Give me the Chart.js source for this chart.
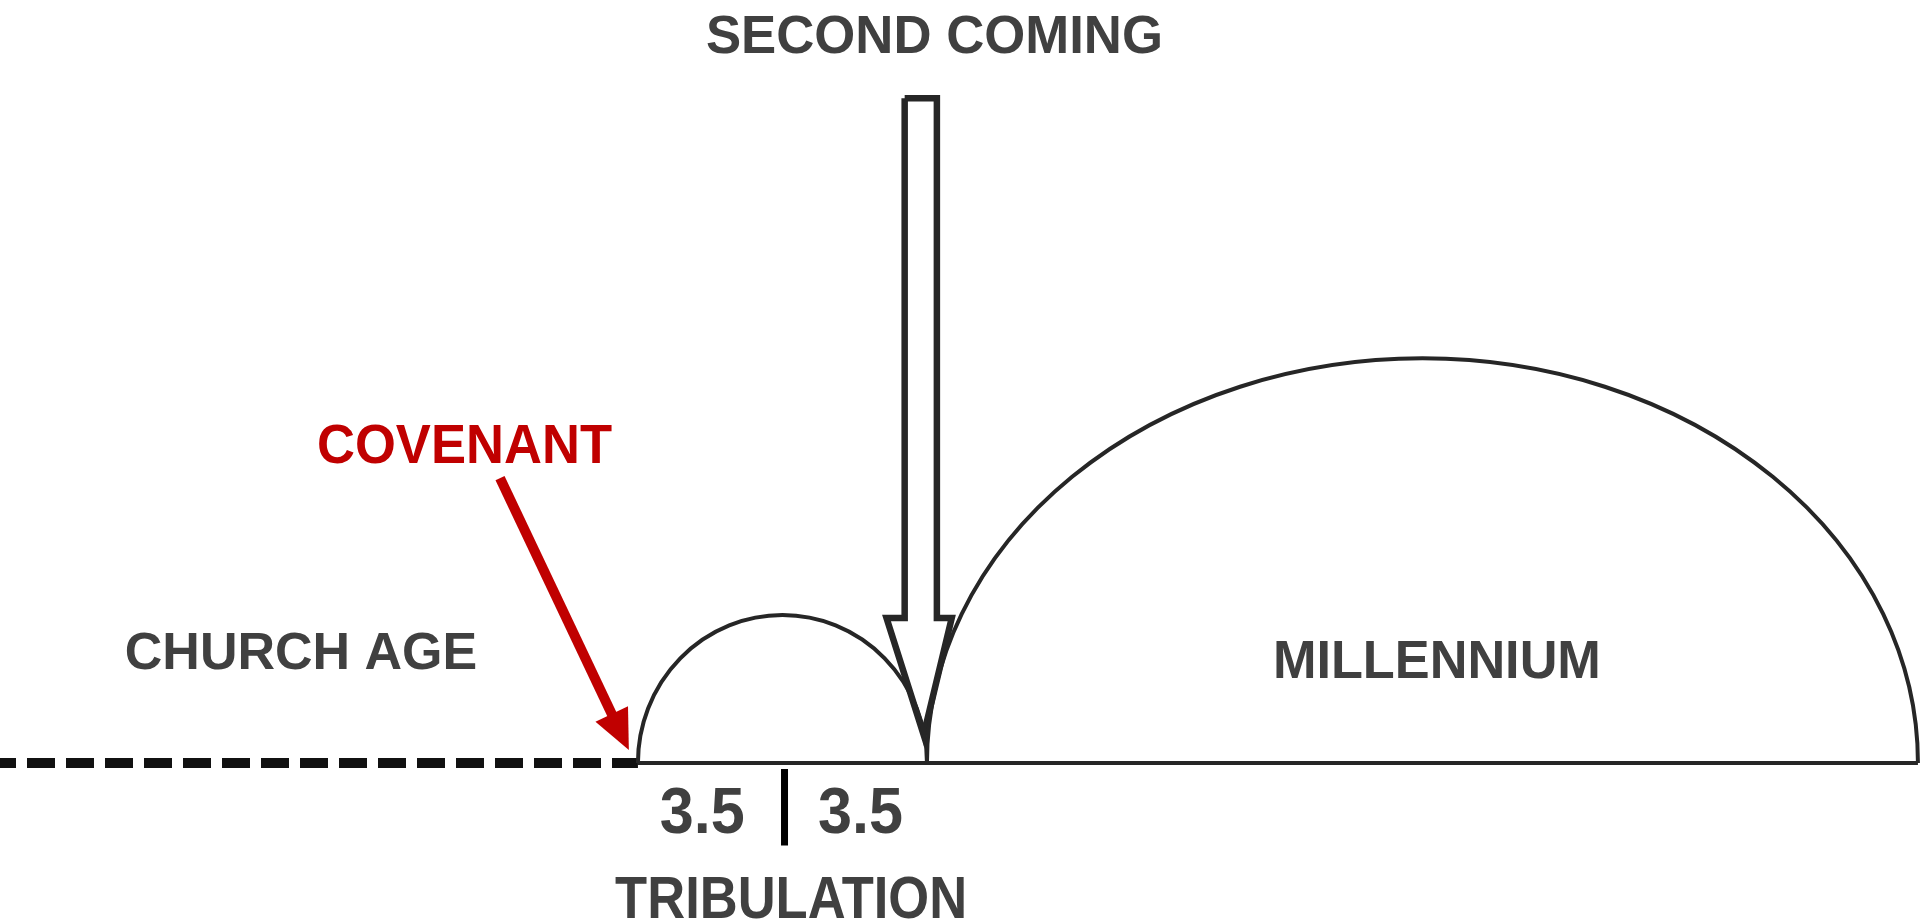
<!DOCTYPE html>
<html>
<head>
<meta charset="utf-8">
<script src="https://cdn.jsdelivr.net/npm/chart.js@4.4.1/dist/chart.umd.min.js"></script>
<style>
  html, body { margin: 0; padding: 0; background: #fff; }
  #wrap { width: 1920px; height: 921px; position: relative; }
</style>
</head>
<body>
<div id="wrap"><canvas id="myChart"></canvas></div>
<script>
// timeline in "years": tribulation is 7 (3.5 + 3.5)
var eras = ['CHURCH AGE', 'TRIBULATION', 'MILLENNIUM'];
var eraStart = [-15.45, 0, 7];
var eraEnd = [0, 7, 31];
var eraHeight = [0, 3.58, 9.8];   // height of the dome over each era
var halves = ['3.5', '3.5'];
var halfMark = 3.55;

var events = ['SECOND COMING', 'COVENANT'];
// hollow arrow of the second coming (outline vertices)
var comingX = [6.46, 7.24, 7.24, 7.6, 6.92, 6.02, 6.46, 6.46];
var comingY = [16.1, 16.1, 3.51, 3.51, 0.68, 3.51, 3.51, 16.1];
// red covenant arrow, from label down to start of tribulation
var covenantX = [-3.34, -0.22];
var covenantY = [6.9, 0.31];

function pts(xs, ys) {
    return xs.map(function (x, i) { return { x: x, y: ys[i] }; });
}

var ink = '#262626';
var textGrey = '#404040';
var red = '#c00000';

// arcs, text and arrow heads, placed through the chart scales
var diagramPlugin = {
    id: 'diagram',
    afterDatasetsDraw: function (chart) {
        var ctx = chart.ctx;
        var sx = chart.scales.x, sy = chart.scales.y;

        // domes over tribulation and millennium
        ctx.save();
        ctx.strokeStyle = ink;
        ctx.lineWidth = 4;
        for (var i = 1; i < eras.length; i++) {
            var cx = sx.getPixelForValue((eraStart[i] + eraEnd[i]) / 2);
            var cy = sy.getPixelForValue(0);
            var rx = Math.abs(sx.getPixelForValue(eraEnd[i]) - cx);
            var ry = Math.abs(sy.getPixelForValue(eraHeight[i]) - cy);
            ctx.beginPath();
            ctx.ellipse(cx, cy, rx, ry, 0, Math.PI, 2 * Math.PI);
            ctx.stroke();
        }
        ctx.restore();

        // red arrow head
        var x0 = sx.getPixelForValue(covenantX[0]), y0 = sy.getPixelForValue(covenantY[0]);
        var x1 = sx.getPixelForValue(covenantX[1]), y1 = sy.getPixelForValue(covenantY[1]);
        var a = Math.atan2(y1 - y0, x1 - x0);
        var len = 40, half = 18;
        ctx.save();
        ctx.fillStyle = red;
        ctx.beginPath();
        ctx.moveTo(x1, y1);
        ctx.lineTo(x1 - len * Math.cos(a) + half * Math.sin(a), y1 - len * Math.sin(a) - half * Math.cos(a));
        ctx.lineTo(x1 - len * Math.cos(a) - half * Math.sin(a), y1 - len * Math.sin(a) + half * Math.cos(a));
        ctx.closePath();
        ctx.fill();
        ctx.restore();

        // labels
        var labels = [
            { text: events[0], x: 7.18, y: 17.2, size: 54, w: 457, color: textGrey },
            { text: events[1], x: -4.2, y: 7.27, size: 56, w: 295, color: red },
            { text: eras[0], x: -8.16, y: 2.28, size: 52, w: 354, color: textGrey },
            { text: eras[2], x: 19.35, y: 2.06, size: 53, w: 328, color: textGrey },
            { text: halves[0], x: 1.56, y: -1.7, size: 64, w: 85, color: textGrey },
            { text: halves[1], x: 5.39, y: -1.7, size: 64, w: 85, color: textGrey },
            { text: eras[1], x: 3.71, y: -3.75, size: 60, w: 352, color: textGrey }
        ];
        ctx.save();
        ctx.textAlign = 'center';
        ctx.textBaseline = 'alphabetic';
        labels.forEach(function (l) {
            ctx.font = 'bold ' + l.size + 'px "Liberation Sans", Arial, sans-serif';
            ctx.fillStyle = l.color;
            ctx.fillText(l.text, sx.getPixelForValue(l.x), sy.getPixelForValue(l.y), l.w);
        });
        ctx.restore();
    }
};

var ctx = document.getElementById('myChart').getContext('2d');
window.myChart = new Chart(ctx, {
    type: 'scatter',
    data: {
        datasets: [
            {
                // church age, dashed
                data: pts([eraStart[0], eraEnd[0]], [0, 0]),
                showLine: true,
                borderColor: '#111',
                borderWidth: 10,
                borderDash: [28, 11],
                borderDashOffset: 12,
                pointRadius: 0
            },
            {
                // tribulation + millennium baseline
                data: pts([eraStart[1], eraEnd[2]], [0, 0]),
                showLine: true,
                borderColor: ink,
                borderWidth: 4,
                pointRadius: 0
            },
            {
                // mid-tribulation mark
                data: pts([halfMark, halfMark], [-0.15, -2.0]),
                showLine: true,
                borderColor: '#000',
                borderWidth: 7,
                pointRadius: 0
            },
            {
                // second coming arrow outline
                data: pts(comingX, comingY),
                showLine: true,
                borderColor: ink,
                borderWidth: 6.5,
                borderJoinStyle: 'miter',
                pointRadius: 0,
                tension: 0
            },
            {
                // covenant arrow shaft
                data: pts([covenantX[0], covenantX[0] + (covenantX[1] - covenantX[0]) * 0.9],
                          [covenantY[0], covenantY[0] + (covenantY[1] - covenantY[0]) * 0.9]),
                showLine: true,
                borderColor: red,
                borderWidth: 10,
                pointRadius: 0
            }
        ]
    },
    options: {
        responsive: true,
        maintainAspectRatio: false,
        animation: false,
        layout: { padding: 0 },
        plugins: {
            legend: { display: false },
            tooltip: { enabled: false }
        },
        scales: {
            x: { type: 'linear', min: -15.45, max: 31.05, display: false },
            y: { type: 'linear', min: -3.83, max: 18.48, display: false }
        }
    },
    plugins: [diagramPlugin]
});
</script>
</body>
</html>
